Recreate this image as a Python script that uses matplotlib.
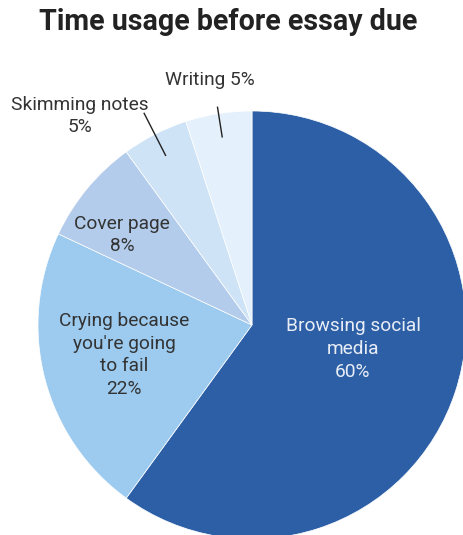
import matplotlib.pyplot as plt
import numpy as np

# data
categories = ['Browsing social media', "Crying because you're going to fail",
              'Cover page', 'Skimming notes', 'Writing']
shares = [60, 22, 8, 5, 5]
colors = ['#2c5fa6', '#9dcbef', '#b3cceb', '#cfe3f6', '#e4f0fb']

plt.rcParams['font.family'] = ['Roboto', 'DejaVu Sans']

W, H = 463, 535
fig = plt.figure(figsize=(W / 100, H / 100), dpi=100)
ax = fig.add_axes([0, 0, 1, 1])

cx, cy, R = 252, H - 325, 214
wedges, _ = ax.pie(shares, colors=colors, startangle=90, counterclock=False,
                   center=(cx, cy), radius=R,
                   wedgeprops=dict(edgecolor='white', linewidth=0.5))
ax.set_xlim(0, W)
ax.set_ylim(0, H)
ax.set_aspect('equal')
ax.axis('off')

def py(y):
    # pixel row from top -> data y
    return H - y

fs = 13.8
ls = 1.35
# inside labels
ax.text(353, py(349), 'Browsing social\nmedia\n60%', color='#e9eef6',
        ha='center', va='center', fontsize=fs, linespacing=ls)
ax.text(124, py(355), "Crying because\nyou're going\nto fail\n22%", color='#333333',
        ha='center', va='center', fontsize=fs, linespacing=ls)
ax.text(122, py(235), 'Cover page\n8%', color='#333333',
        ha='center', va='center', fontsize=fs, linespacing=ls)

# outside labels with leader lines along wedge mid angles
outside = {3: ((80, 116), 1.11, 'Skimming notes\n5%'),
           4: ((210, 80), 1.03, 'Writing 5%')}
for i, (pos, r_out, txt) in outside.items():
    w = wedges[i]
    mid = np.deg2rad((w.theta1 + w.theta2) / 2)
    x0, y0 = cx + 0.89 * R * np.cos(mid), cy + 0.89 * R * np.sin(mid)
    x1, y1 = cx + r_out * R * np.cos(mid), cy + r_out * R * np.sin(mid)
    ax.plot([x0, x1], [y0, y1], color='#222222', lw=1.0)
    ax.text(pos[0], py(pos[1]), txt, color='#333333', ha='center', va='center',
            fontsize=fs, linespacing=ls)

ax.text(228, py(22), 'Time usage before essay due', ha='center', va='center',
        fontsize=20.6, fontweight='bold', color='#222222')

fig.savefig('out.png', dpi=100, facecolor='white')
